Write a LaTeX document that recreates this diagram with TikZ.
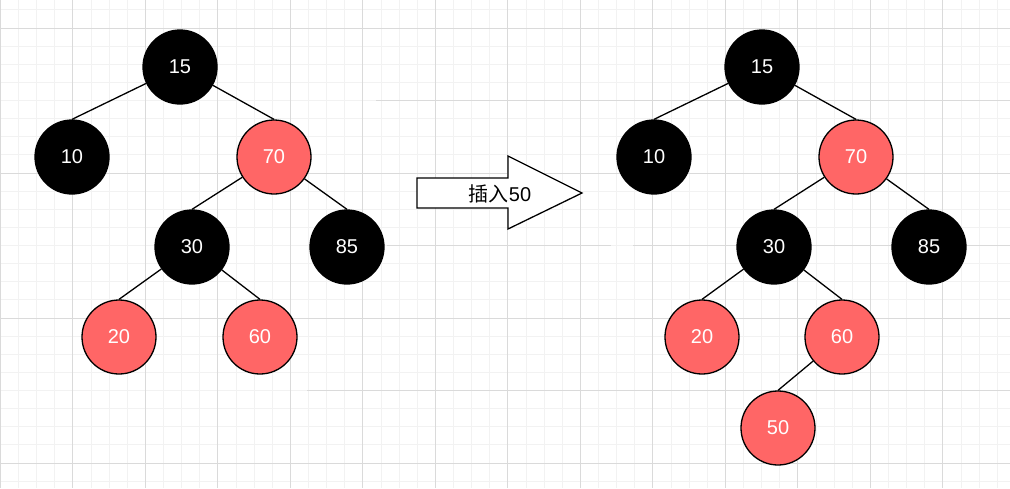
\documentclass[tikz,border=0pt]{standalone}
\usepackage{fontspec}
\setmainfont{Liberation Sans}
\newfontfamily\cjk{Noto Sans CJK SC}
\definecolor{rbred}{HTML}{FF6666}
\definecolor{gridmajor}{HTML}{DADADA}
\definecolor{gridminor}{HTML}{F2F2F2}
\tikzset{
  minorgrid/.style={draw=gridminor, line width=0.8pt},
  majorgrid/.style={draw=gridmajor, line width=0.8pt},
  rbnode/.style={circle, draw=black, line width=1.3pt, minimum size=74pt, inner sep=0pt,
    text=white, font=\fontsize{20}{22}\selectfont},
  blk/.style={rbnode, fill=black},
  red/.style={rbnode, fill=rbred},
  edge/.style={draw=black, line width=1.3pt},
}
\begin{document}
\begin{tikzpicture}[x=1pt,y=-1pt]
\fill[white] (0,0) rectangle (1010,488);
\useasboundingbox (0,0) rectangle (1010,488);
% grid
\foreach \i in {0,...,56} \draw[minorgrid] ({0.3+\i*18.125},0) -- ++(0,488);
\foreach \i in {0,...,27} \draw[minorgrid] (0,{9.875+\i*18.125}) -- ++(1010,0);
\foreach \i in {0,...,14} \draw[majorgrid] ({0.3+\i*72.5},0) -- ++(0,488);
\foreach \y in {28,173,318,463} \draw[majorgrid] (0,\y) -- ++(1010,0);
\draw[majorgrid] (376,100.5) -- (1010,100.5);
\draw[majorgrid] (387,245.5) -- (611,245.5);
\draw[majorgrid] (633,245.5) -- (1010,245.5);
\draw[majorgrid] (307,390.5) -- (1010,390.5);
% left tree
\node[blk] (a15) at (180,67) {15};
\node[blk] (a10) at (72,157) {10};
\node[red] (a70) at (274,157) {70};
\node[blk] (a30) at (192,247) {30};
\node[blk] (a85) at (347,247) {85};
\node[red] (a20) at (119,337) {20};
\node[red] (a60) at (260,337) {60};
\draw[edge] (a15) -- (a10.north);
\draw[edge] (a15) -- (a70.north);
\draw[edge] (a70) -- (a30.north);
\draw[edge] (a70) -- (a85.north);
\draw[edge] (a30) -- (a20.north);
\draw[edge] (a30) -- (a60.north);
% arrow
\draw[line width=1.3pt, fill=white] (417,178) -- (508,178) -- (508,156) -- (582,193) -- (508,229) -- (508,208) -- (417,208) -- cycle;
\node[font=\fontsize{20}{22}\selectfont, inner sep=0pt] (lbl) at (500,194) {{\cjk 插入}50};
% right tree
\node[blk] (b15) at (762,67) {15};
\node[blk] (b10) at (654,157) {10};
\node[red] (b70) at (856,157) {70};
\node[blk] (b30) at (774,247) {30};
\node[blk] (b85) at (929,247) {85};
\node[red] (b20) at (702,337) {20};
\node[red] (b60) at (842,337) {60};
\node[red] (b50) at (778,428) {50};
\draw[edge] (b15) -- (b10.north);
\draw[edge] (b15) -- (b70.north);
\draw[edge] (b70) -- (b30.north);
\draw[edge] (b70) -- (b85.north);
\draw[edge] (b30) -- (b20.north);
\draw[edge] (b30) -- (b60.north);
\draw[edge] (b60) -- (b50.north);
\end{tikzpicture}
\end{document}
